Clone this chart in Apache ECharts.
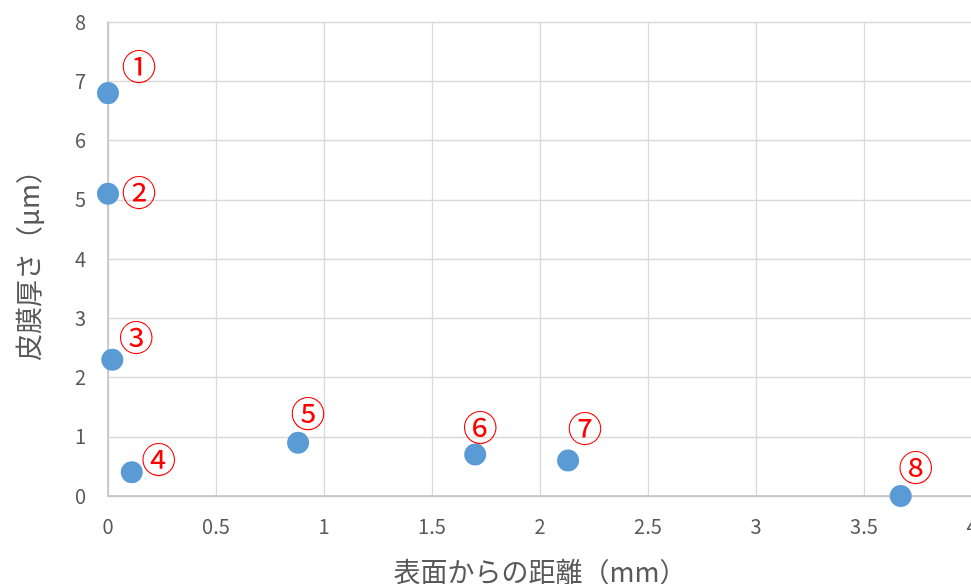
<!DOCTYPE html>
<html><head><meta charset="utf-8">
<script src="https://cdn.jsdelivr.net/npm/echarts@6/dist/echarts.min.js"></script>
<style>html,body{margin:0;padding:0;background:#fff}#c{width:971px;height:584px}</style>
</head><body><div id="c"></div>
<script>
const xValues = [0, 0, 0.02, 0.11, 0.88, 1.7, 2.13, 3.67];
const yValues = [6.8, 5.1, 2.3, 0.4, 0.9, 0.7, 0.6, 0];
const pointLabels = ['①','②','③','④','⑤','⑥','⑦','⑧'];
const xTitle = '表面からの距離（mm）';
const yTitle = '皮膜厚さ（μm）';

const labelOffsets = [[31,-26],[31,-1],[24,-22],[27,-13],[10,-29],[5,-27],[17,-32],[15,-28]];
const font = '"Noto Sans CJK JP", "Noto Sans", sans-serif';
const chart = echarts.init(document.getElementById('c'), null, {renderer:'canvas'});
chart.setOption({
  animation:false,
  grid:{left:108, right:-1, top:22, bottom:88, containLabel:false, outerBoundsMode:'none'},
  xAxis:{type:'value', min:0, max:4, interval:0.5,
    name:xTitle, nameLocation:'middle', nameGap:62,
    nameTextStyle:{fontSize:27, color:'#595959', fontFamily:font},
    axisLine:{show:true, lineStyle:{color:'#bfbfbf', width:1.5}},
    axisTick:{show:false},
    axisLabel:{fontSize:20, color:'#595959', margin:20, fontFamily:font, showMaxLabel:true},
    splitLine:{show:true, lineStyle:{color:'#d9d9d9', width:1.3}}},
  yAxis:{type:'value', min:0, max:8, interval:1,
    name:yTitle, nameLocation:'middle', nameGap:66, nameRotate:90,
    nameTextStyle:{fontSize:27, color:'#595959', fontFamily:font},
    axisLine:{show:true, lineStyle:{color:'#bfbfbf', width:1.5}},
    axisTick:{show:false},
    axisLabel:{fontSize:20, color:'#595959', margin:22, fontFamily:font},
    splitLine:{show:true, lineStyle:{color:'#d9d9d9', width:1.3}}},
  series:[{
    type:'scatter', symbol:'circle', symbolSize:22,
    itemStyle:{color:'#5b9bd5', opacity:1},
    data: xValues.map((x,i)=>({value:[x, yValues[i]],
      label:{show:true, formatter:pointLabels[i], position:'inside', offset:labelOffsets[i],
        color:'#ff0000', fontSize:35, fontFamily:font}})),
    clip:false
  }]
});
</script></body></html>
